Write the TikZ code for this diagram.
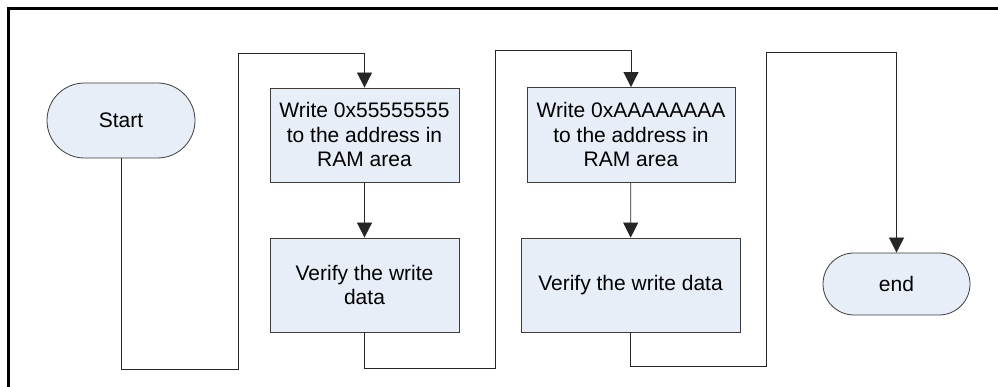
\documentclass[tikz,border=0pt]{standalone}
\usepackage{fontspec}
\setmainfont{Liberation Sans}
\usetikzlibrary{positioning,shapes.misc,arrows.meta}
\definecolor{boxfill}{RGB}{232,238,247}
\definecolor{boxline}{RGB}{60,60,60}

\begin{document}
\begin{tikzpicture}[x=1pt,y=1pt,
     termnode/.style = {rounded rectangle, draw=boxline, fill=boxfill, line width=0.8pt,
                        inner sep=0pt, align=center, font=\fontsize{21}{24.5}\selectfont},
     procnode/.style = {rectangle, draw=boxline, fill=boxfill, line width=0.8pt,
                        inner sep=0pt, align=center, font=\fontsize{21}{24.5}\selectfont},
     flow/.style = {draw=black!85, line width=0.8pt, -{Triangle[width=15pt,length=15pt]}}]
     \useasboundingbox (0,0) rectangle (998,387);
     \draw[line width=3pt] (998,378.5) -- (8,378.5) -- (8,0);

     \node[termnode, minimum width=148pt, minimum height=75pt] (start) at (121,266.5) {Start};
     \node[procnode, minimum width=189pt, minimum height=94pt] (w55) at (364.5,252)
          {Write 0x55555555\\to the address in\\RAM area};
     \node[procnode, minimum width=189pt, minimum height=94pt] (v55) at (364.5,102)
          {Verify the write\\data};
     \node[procnode, minimum width=208pt, minimum height=95pt] (wAA) at (631,252)
          {Write 0xAAAAAAAA\\to the address in\\RAM area};
     \node[procnode, minimum width=219pt, minimum height=94pt] (vAA) at (630.5,102)
          {Verify the write data};
     \node[termnode, minimum width=147pt, minimum height=62pt] (end) at (896.5,103) {end};

     \coordinate (low1) at (238,18);
     \coordinate (high1) at (238,334);
     \coordinate (low2) at (495,19);
     \coordinate (high2) at (495,337);
     \coordinate (low3) at (766,21);
     \coordinate (high3) at (766,335);

     \draw[flow] (start.south) |- (low1) -- (high1) -| (w55.north);
     \draw[flow] (w55) -- (v55);
     \draw[flow] (v55.south) |- (low2) -- (high2) -| (wAA.north);
     \draw[flow] (wAA) -- (vAA);
     \draw[flow] (vAA.south) |- (low3) -- (high3) -| (end.north);
\end{tikzpicture}
\end{document}
